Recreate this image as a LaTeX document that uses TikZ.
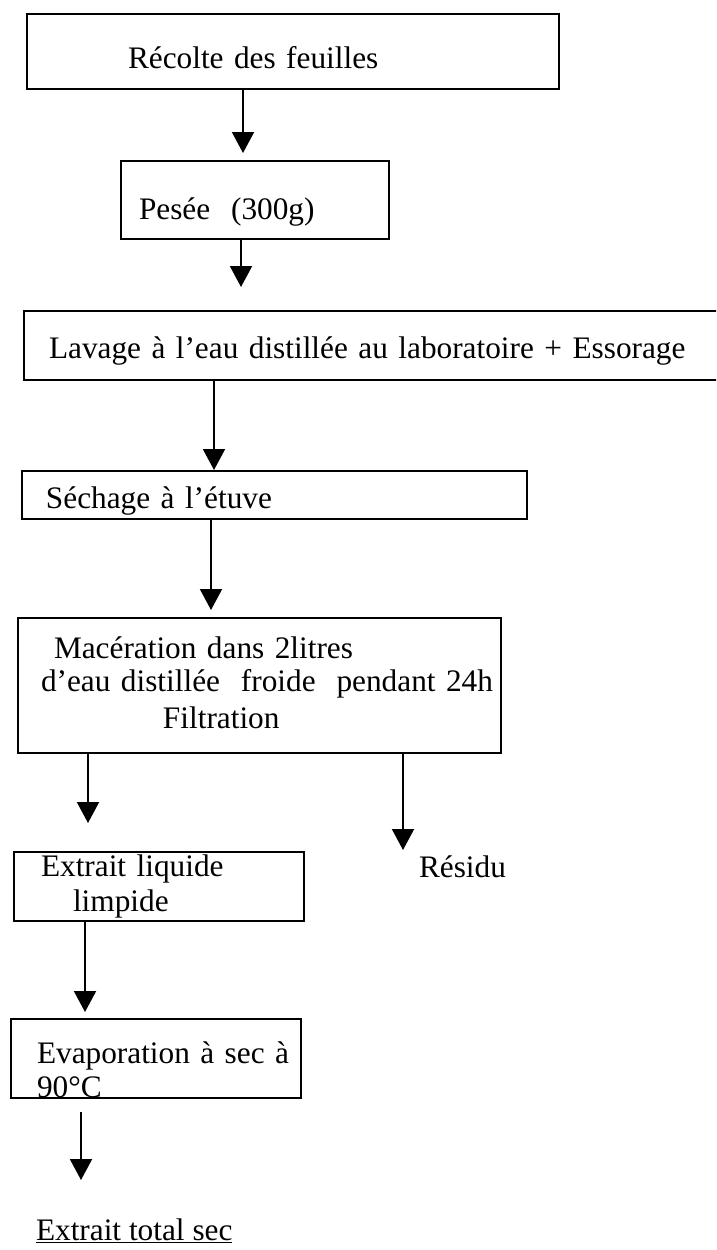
\documentclass[tikz,border=0pt]{standalone}
\usepackage{fontspec}
\setmainfont{Liberation Serif}
\usetikzlibrary{arrows.meta,calc}

\newcommand{\pushin}[1]{\hspace*{#1pt}}

\begin{document}
\begin{tikzpicture}[->,>={Triangle[length=21pt,width=22pt]},x=1pt,y=-1pt,
    line width=2pt,font=\fontsize{31.3pt}{34pt}\selectfont,
    stepbox/.style={draw,rectangle,anchor=north west,inner sep=0pt,align=left},
    plain/.style={anchor=base west,inner sep=0pt}]

  \path[use as bounding box,clip] (0,0) rectangle (716,1250);

  % Steps of the extraction
  \node[stepbox,text width=532pt,text height=54pt,text depth=21pt] (recolte) at (26,13)
    {\pushin{101}Récolte des feuilles};
  \node[stepbox,text width=268pt,text height=58pt,text depth=20pt] (pesee) at (120,160)
    {\pushin{18}Pesée\ \ (300g)};
  \node[stepbox,text width=717pt,text height=47pt,text depth=22pt] (lavage) at (23,310)
    {\pushin{25}Lavage à l’eau distillée au laboratoire + Essorage};
  \node[stepbox,text width=505pt,text height=37pt,text depth=11pt] (sechage) at (21,470)
    {\pushin{24}Séchage à l’étuve};
  \node[stepbox,text width=483pt,text height=40pt,text depth=95pt] (maceration) at (17,617)
    {\pushin{36}Macération dans 2litres\\[-1pt]
     \pushin{23}d’eau distillée\ \ froide\ \ pendant 24h\\[3pt]
     \pushin{145}Filtration};
  \node[stepbox,text width=290pt,text height=24pt,text depth=45pt] (liquide) at (13,851)
    {\pushin{27}Extrait liquide\\[1pt]
     \pushin{59}limpide};
  \node[stepbox,text width=290pt,text height=44pt,text depth=35pt] (evapo) at (10,1018)
    {\pushin{26}Evaporation à sec à\\
     \pushin{26}90°C};

  % Products
  \node[plain] (residu) at (418,877) {Résidu};
  \node[plain] (sec) at (35,1240) {\underline{Extrait total sec}};

  % Arrows between the steps
  \path ($(recolte.south west)+(217,0)$) edge ($(pesee.north west)+(123,-7)$);
  \path ($(pesee.south west)+(121,0)$) edge ($(lavage.north west)+(218,-23)$);
  \path ($(lavage.south west)+(191,0)$) edge ($(sechage.north west)+(193,0)$);
  \path ($(sechage.south west)+(190,0)$) edge ($(maceration.north west)+(194,-7)$);

  % Filtration: filtrate and residue
  \path ($(maceration.south west)+(71,0)$) edge ($(liquide.north west)+(75,-28)$);
  \path ($(maceration.south west)+(386,0)$) edge ($(residu.base west)+(-15,-27)$);

  \path ($(liquide.south west)+(72,0)$) edge ($(evapo.north west)+(75,-6)$);
  \path ($(evapo.south west)+(71,13)$) edge ($(sec.base west)+(46,-60)$);

\end{tikzpicture}
\end{document}
